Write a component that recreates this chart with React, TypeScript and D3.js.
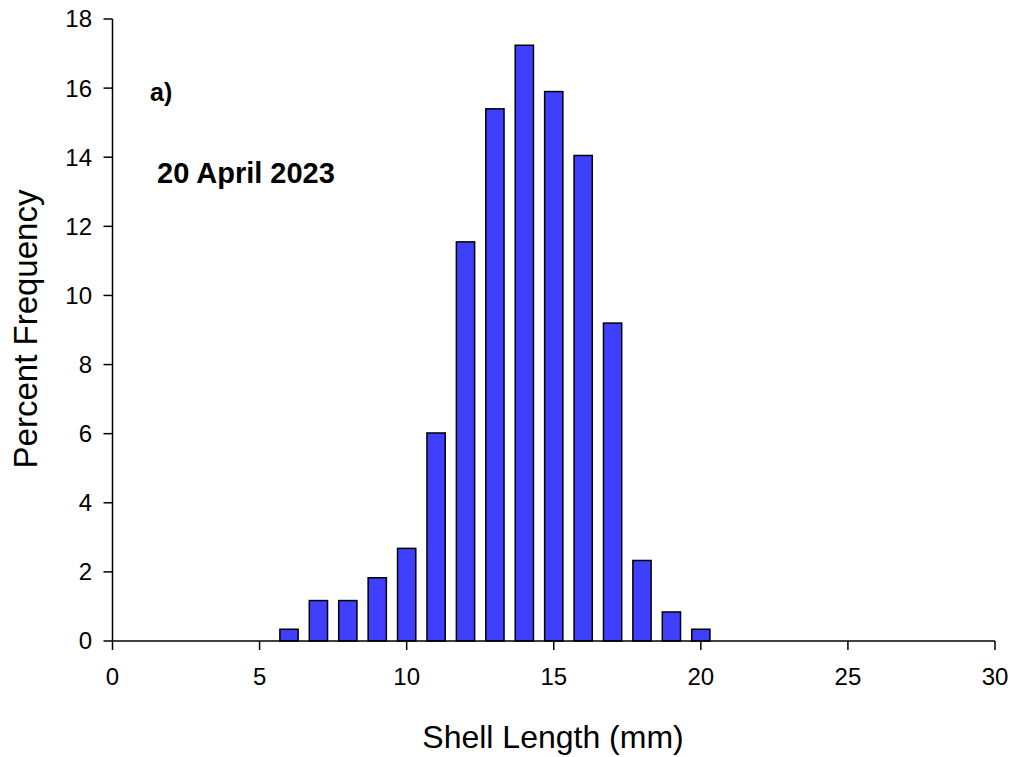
import React from 'react';
import * as d3 from 'd3';

// shell length class (mm) and percent frequency
const lengths = [6, 7, 8, 9, 10, 11, 12, 13, 14, 15, 16, 17, 18, 19, 20];
const percents = [0.34, 1.17, 1.17, 1.83, 2.68, 6.02, 11.55, 15.4, 17.24, 15.9, 14.05, 9.2, 2.33, 0.84, 0.34];
const xTicks = [0, 5, 10, 15, 20, 25, 30];
const yTicks = [0, 2, 4, 6, 8, 10, 12, 14, 16, 18];

const W = 1014;
const H = 757;
const font = '"Liberation Sans", Arial, sans-serif';

export default function App() {
  const x = d3.scaleLinear().domain([0, 30]).range([112.5, 995]);
  const y = d3.scaleLinear().domain([0, 18]).range([641, 19]);
  const barW = x(0.62) - x(0);

  return (
    <svg width={W} height={H} style={{ position: 'absolute', left: 0, top: 0, background: '#fff' }}
      fontFamily={font}>
      {/* bars */}
      {lengths.map((d, i) => (
        <rect key={d} x={x(d) - barW / 2} y={y(percents[i])} width={barW}
          height={y(0) - y(percents[i])} fill="#3f3fff" stroke="#000" strokeWidth={1.5} />
      ))}

      {/* y axis */}
      <line x1={x(0)} x2={x(0)} y1={y(18)} y2={y(0)} stroke="#000" strokeWidth={1.5} />
      {yTicks.map(t => (
        <g key={t}>
          <line x1={x(0) - 9} x2={x(0)} y1={y(t)} y2={y(t)} stroke="#000" strokeWidth={1.5} />
          <text x={92} y={y(t)} dy="0.35em" textAnchor="end" fontSize={24}>{t}</text>
        </g>
      ))}

      {/* x axis */}
      <line x1={x(0)} x2={x(30)} y1={y(0)} y2={y(0)} stroke="#000" strokeWidth={1.5} />
      {xTicks.map(t => (
        <g key={t}>
          <line x1={x(t)} x2={x(t)} y1={y(0)} y2={y(0) + 9} stroke="#000" strokeWidth={1.5} />
          <text x={x(t)} y={685} textAnchor="middle" fontSize={24}>{t}</text>
        </g>
      ))}

      {/* titles */}
      <text x={553} y={748} textAnchor="middle" fontSize={32}>Shell Length (mm)</text>
      <text transform="translate(37,329) rotate(-90)" textAnchor="middle" fontSize={33}>Percent Frequency</text>

      {/* annotations */}
      <text x={150} y={101} fontSize={25} fontWeight="bold">a)</text>
      <text x={157} y={183} fontSize={29} fontWeight="bold">20 April 2023</text>
    </svg>
  );
}
